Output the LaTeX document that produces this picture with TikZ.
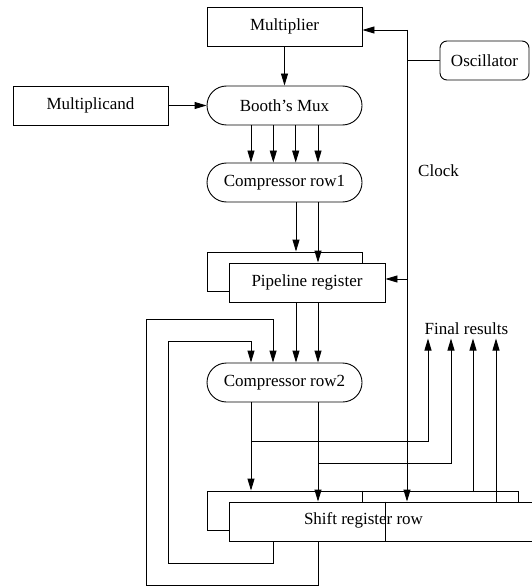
\documentclass[tikz,border=0pt]{standalone}
\usepackage{fontspec}
\setmainfont{Liberation Serif}
\usetikzlibrary{arrows.meta}
\begin{document}
\begin{tikzpicture}[x=1bp,y=-1bp,
  every node/.style={font=\fontsize{17bp}{20bp}\selectfont},
  wire/.style={line width=0.9bp, draw=black},
  arr/.style={wire,-{Triangle[length=12bp,width=7bp]}},
  box/.style={draw, line width=0.9bp, minimum width=155bp, minimum height=39bp, inner sep=0pt, fill=white},
  capsule/.style={box, rounded corners=19.5bp},
  oscbox/.style={box, rounded corners=7bp, minimum width=89bp}]
\useasboundingbox (0,0) rectangle (532,586);

% boxes
\node[box] (mult) at (284.5,26.5) {Multiplier};
\node[capsule] (booth) at (284.5,105.5) {Booth's Mux};
\node[box] (mcand) at (90.5,105.5) {Multiplicand};
\node[oscbox] (osc) at (484.5,60.5) {Oscillator};
\node[capsule] (c1) at (284.5,182.5) {Compressor row1};
\node[box] (pb) at (284.5,271.5) {};
\node[box, minimum width=156bp] (pf) at (307,282.5) {Pipeline register};
\node[capsule] (c2) at (284.5,382.5) {Compressor row2};
\node[box, minimum width=311bp] (sb) at (362.5,510.5) {};
\node[box, minimum width=316bp] (sf) at (387,521.5) {};
\node (srtext) at (363.5,520) {Shift register row};
\draw[wire] (sb.north) -- (sb.north |- sf.north);
\draw[wire] ([xshift=-2bp]sf.north) -- ([xshift=-2bp]sf.south);

% labels
\node (clk) at (438.5,171) {Clock};
\node (fr) at (466.5,329) {Final results};

% connectors
\draw[arr] (mult.south) -- (booth.north);
\draw[arr] (mcand.east) -- (booth.west);
\foreach \s in {-33.5,-11.2,11.2,33.5}
  \draw[arr] ([xshift=\s bp]booth.south) -- ([xshift=\s bp]c1.north);

\coordinate (p1) at (296,202);
\coordinate (p2) at (318,202);
\draw[arr] (p1 |- c1.south) -- (p1 |- pb.north);
\draw[arr] (p2 |- c1.south) -- (p2 |- pf.north);
\draw[arr] (p1 |- pf.south) -- (p1 |- c2.north);
\draw[arr] (p2 |- pf.south) -- (p2 |- c2.north);

% feedback loops from shift register
\coordinate (ib) at (168,563);
\coordinate (it) at (251,341);
\coordinate (ob) at (146,585);
\coordinate (ot) at (273,319);
\draw[arr] (ot |- sf.south) -- (ot |- ib) -- (ib) -- (ib |- it) -- (it) -- (it |- c2.north);
\draw[arr] (p2 |- sf.south) -- (p2 |- ob) -- (ob) -- (ob |- ot) -- (ot) -- (ot |- c2.north);

% compressor row2 to shift register and final results
\coordinate (b1) at (428,441);
\coordinate (b2) at (451,463);
\coordinate (r3) at (473,342);
\coordinate (r4) at (496,342);
\draw[arr] (it |- c2.south) -- (it |- sb.north);
\draw[arr] (p2 |- c2.south) -- (p2 |- sf.north);
\draw[arr] (it |- b1) -- (b1) -- (b1 |- fr.south);
\draw[arr] (p2 |- b2) -- (b2) -- (b2 |- fr.south);
\draw[arr] (r3 |- sb.north) -- (r3 |- fr.south);
\draw[arr] (r4 |- sf.north) -- (r4 |- fr.south);

% clock
\coordinate (ctop) at (407,30);
\coordinate (pck) at (407,279);
\draw[arr] (ctop) -- (ctop -| mult.east);
\draw[wire] (osc.west) -- (osc.west -| ctop);
\draw[arr] (ctop) -- (ctop |- sf.north);
\draw[arr] (pck) -- (pck -| pf.east);
\end{tikzpicture}
\end{document}
